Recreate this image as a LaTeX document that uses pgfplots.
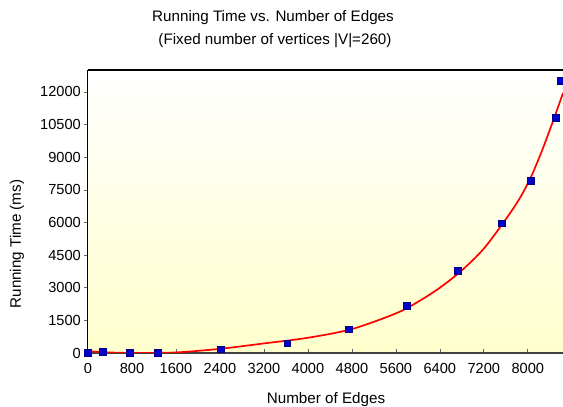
\documentclass[border=0pt]{standalone}
\usepackage{pgfplots}
\pgfplotsset{compat=1.18}
\usepackage{fontspec}
\setmainfont{Liberation Sans}
\definecolor{markblue}{HTML}{0000CC}
\definecolor{markedge}{HTML}{000080}
\definecolor{bgyellow}{HTML}{FFFFCC}
\begin{document}
\begin{tikzpicture}
\begin{axis}[
  name=ax,
  scale only axis,
  width=475bp, height=283bp,
  xmin=0, xmax=8640,
  ymin=0, ymax=13010,
  axis lines=left,
  axis line style={-, black, line width=1bp},
  x axis line style={draw=black!75, line width=1.4bp},
  axis background/.style={top color=white, bottom color=bgyellow},
  xtick={0,800,1600,2400,3200,4000,4800,5600,6400,7200,8000},
  ytick={0,1500,3000,4500,6000,7500,9000,10500,12000},
  scaled ticks=false,
  /pgf/number format/assume math mode=true,
  /pgf/number format/1000 sep={},
  tick label style={font=\fontsize{14.6bp}{17bp}\selectfont},
  major tick length=4bp,
  tick align=inside,
  x tick style={draw=black!60, line width=0.7bp},
  y tick style={draw=black!60, line width=0.7bp, xshift=-4bp},
  yticklabel style={inner sep=0pt, anchor=east, xshift=-7bp},
  xticklabel style={inner sep=0pt, anchor=north, yshift=-10bp},
  clip mode=individual,
]
\addplot[red, line width=1.7bp, smooth, tension=0.5] coordinates {
  (0,80) (400,25) (800,0) (1300,5) (1700,40) (2400,190) (3200,440)
  (4000,700) (4800,1100) (5600,1820) (6000,2350) (6400,3000)
  (6800,3800) (7200,4800) (7600,6150) (7850,7100) (8050,8050)
  (8250,9250) (8450,10600) (8640,11950)
};
\addplot[only marks, mark=square*, mark size=3.4bp,
  mark options={fill=markblue, draw=markedge, line width=0.5bp}] coordinates {
  (0,0) (267,60) (764,20) (1267,20) (2418,170) (3624,446) (4745,1089)
  (5794,2161) (6721,3784) (7527,5963) (8048,7908) (8504,10800) (8600,12500)
};
\end{axis}
\draw[black, line width=1.3bp] (ax.north west) -- ([xshift=10bp]ax.north east);
\node[font=\fontsize{15.2bp}{18bp}\selectfont] at ([xshift=185bp,yshift=52bp]ax.north west) {Running Time vs. Number of Edges};
\node[font=\fontsize{15.2bp}{18bp}\selectfont] at ([xshift=187bp,yshift=29bp]ax.north west) {(Fixed number of vertices |V|=260)};
\node[font=\fontsize{15.2bp}{18bp}\selectfont] at ([xshift=238bp,yshift=-47bp]ax.south west) {Number of Edges};
\node[font=\fontsize{15.2bp}{18bp}\selectfont, rotate=90] at ([xshift=-71bp,yshift=109bp]ax.south west) {Running Time (ms)};
\pgfresetboundingbox
\path ([xshift=-88bp,yshift=-54bp]ax.south west) rectangle ([yshift=70bp]ax.north east);
\end{tikzpicture}
\end{document}
